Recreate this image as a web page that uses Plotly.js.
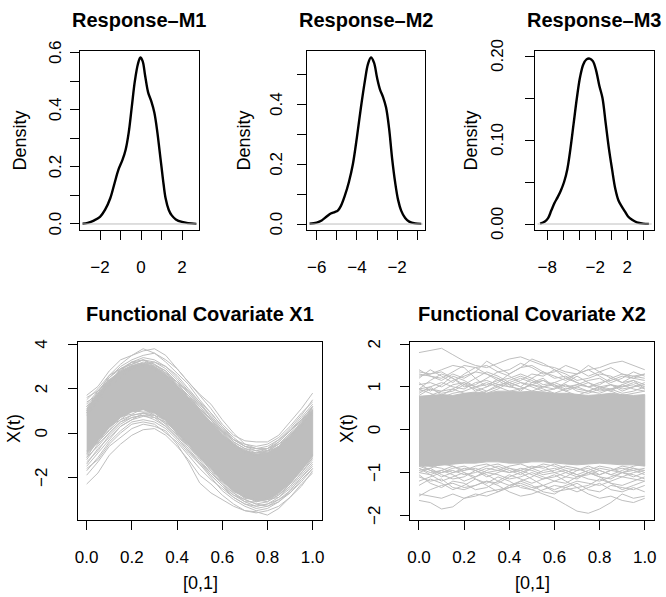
<!DOCTYPE html>
<html><head><meta charset="utf-8">
<script src="https://cdn.plot.ly/plotly-3.0.1.min.js"></script>
<style>html,body{margin:0;padding:0;background:#fff}#chart{width:666px;height:597px}</style>
</head><body><div id="chart"></div>
<script>
// ---------- Density curves ----------
const m1X = [-2.85,-2.6,-2.3,-2.0,-1.75,-1.5,-1.3,-1.1,-0.9,-0.75,-0.6,-0.45,-0.3,-0.15,-0.03,0.08,0.2,0.35,0.5,0.65,0.8,0.9,1.0,1.1,1.2,1.35,1.5,1.7,2.0,2.3,2.7];
const m1Y = [0.001,0.004,0.012,0.025,0.05,0.09,0.14,0.19,0.225,0.26,0.32,0.41,0.50,0.56,0.583,0.57,0.52,0.46,0.43,0.39,0.32,0.26,0.20,0.14,0.09,0.05,0.03,0.016,0.007,0.003,0.0005];
const m2X = [-6.35,-6.0,-5.75,-5.5,-5.3,-5.1,-4.95,-4.8,-4.6,-4.4,-4.2,-4.0,-3.8,-3.6,-3.45,-3.3,-3.15,-3.0,-2.85,-2.7,-2.55,-2.4,-2.25,-2.1,-1.95,-1.8,-1.6,-1.4,-1.1,-0.8];
const m2Y = [0.001,0.005,0.012,0.025,0.035,0.04,0.045,0.06,0.095,0.14,0.2,0.29,0.39,0.48,0.535,0.557,0.54,0.49,0.45,0.425,0.39,0.32,0.22,0.14,0.08,0.045,0.02,0.008,0.002,0.0005];
const m3X = [-8.9,-8.3,-7.9,-7.5,-7.1,-6.7,-6.3,-5.9,-5.5,-5.1,-4.7,-4.3,-3.9,-3.5,-3.1,-2.7,-2.3,-1.9,-1.5,-1.1,-0.7,-0.3,0.1,0.5,0.9,1.3,1.7,2.1,2.6,3.2,4.0,4.7];
const m3Y = [0.0005,0.003,0.007,0.016,0.025,0.032,0.04,0.05,0.065,0.09,0.12,0.15,0.175,0.19,0.196,0.197,0.194,0.183,0.165,0.15,0.12,0.09,0.065,0.042,0.028,0.021,0.015,0.009,0.005,0.002,0.0005,0.0001];

// ---------- Functional covariates on [0,1] ----------
const tGrid = [0,0.05,0.1,0.15,0.2,0.25,0.3,0.35,0.4,0.45,0.5,0.55,0.6,0.65,0.7,0.75,0.8,0.85,0.9,0.95,1];

// X1: dense core band and individual curves
const x1BandHi = [1.1,1.75,2.4,2.8,3.05,3.15,3.0,2.65,2.15,1.6,1.05,0.5,-0.05,-0.5,-0.8,-0.95,-0.9,-0.6,-0.15,0.45,1.05];
const x1BandLo = [-0.95,-0.35,0.25,0.7,0.95,1.05,0.9,0.55,0.05,-0.5,-1.05,-1.6,-2.15,-2.6,-2.9,-3.05,-3.0,-2.7,-2.25,-1.65,-1.05];
const x1U1 = [1.7,2.1,2.8,3.3,3.5,3.7,3.8,3.5,2.9,2.3,1.7,1.1,0.4,-0.1,-0.35,-0.4,-0.4,-0.1,0.5,1.1,1.8];
const x1U2 = [1.5,2.0,2.6,3.1,3.5,3.8,3.6,3.2,2.7,2.2,1.5,0.9,0.3,-0.3,-0.6,-0.7,-0.6,-0.3,0.2,0.8,1.5];
const x1U3 = [1.3,1.9,2.5,3.0,3.3,3.5,3.6,3.3,2.9,2.3,1.75,1.3,0.6,0.0,-0.5,-0.7,-0.8,-0.4,0.1,0.7,1.3];
const x1U4 = [1.2,1.8,2.6,2.9,3.2,3.4,3.3,3.0,2.6,2.0,1.4,0.7,0.2,-0.4,-0.7,-0.9,-0.7,-0.5,0.0,0.6,1.2];
const x1U5 = [1.4,1.7,2.3,2.8,3.2,3.3,3.2,2.9,2.4,1.8,1.2,0.6,0.0,-0.5,-0.8,-0.9,-0.8,-0.5,-0.1,0.5,1.1];
const x1U6 = [1.0,1.9,2.4,2.7,3.0,3.2,3.1,2.8,2.3,1.9,1.3,0.8,0.2,-0.3,-0.6,-0.8,-0.7,-0.4,0.1,0.6,1.0];
const x1U7 = [0.9,1.5,2.2,2.9,3.1,3.3,3.0,2.7,2.2,1.7,1.2,0.6,0.1,-0.4,-0.7,-0.8,-0.9,-0.6,-0.2,0.4,0.9];
const x1U8 = [1.6,1.9,2.3,2.7,3.0,3.0,2.9,2.6,2.3,1.8,1.3,0.7,0.1,-0.3,-0.5,-0.6,-0.5,-0.2,0.3,0.9,1.4];
const x1U9 = [1.2,1.6,2.1,2.5,2.9,3.1,3.2,3.0,2.5,1.9,1.4,0.9,0.3,-0.2,-0.6,-0.7,-0.7,-0.3,0.1,0.6,1.2];
const x1U10 = [0.8,1.4,2.0,2.6,2.9,3.0,2.8,2.6,2.1,1.7,1.1,0.6,0.1,-0.5,-0.9,-1.0,-0.9,-0.6,-0.1,0.3,0.8];
const x1E1 = [1.2,1.6,2.5,2.9,3.1,3.3,3.1,2.7,2.3,1.6,1.1,0.6,-0.1,-0.45,-0.85,-0.9,-0.85,-0.5,-0.2,0.55,1.1];
const x1E2 = [0.9,1.8,2.3,2.85,3.2,3.1,3.05,2.8,2.1,1.7,1.0,0.45,0.05,-0.55,-0.75,-1.0,-0.8,-0.65,-0.05,0.4,1.2];
const x1E3 = [-1.1,-0.3,0.15,0.75,0.85,1.1,0.8,0.6,-0.05,-0.45,-1.15,-1.55,-2.2,-2.55,-2.95,-3.0,-3.1,-2.65,-2.3,-1.6,-1.15];
const x1E4 = [-0.8,-0.45,0.3,0.6,1.0,0.95,0.95,0.45,0.1,-0.6,-1.0,-1.7,-2.1,-2.65,-2.85,-3.1,-2.95,-2.75,-2.2,-1.7,-0.95];
const x1L1 = [-2.3,-1.8,-1.0,-0.5,-0.1,0.15,0.2,-0.1,-0.6,-1.2,-1.9,-2.3,-2.8,-3.2,-3.5,-3.6,-3.5,-3.3,-2.9,-2.3,-1.8];
const x1L2 = [-1.9,-1.3,-0.6,-0.2,0.2,0.4,0.3,0.1,-0.5,-1.3,-2.25,-2.7,-3.0,-3.3,-3.5,-3.55,-3.7,-3.4,-2.9,-2.4,-1.7];
const x1L3 = [-1.7,-1.1,-0.4,0.1,0.5,0.6,0.5,0.2,-0.3,-0.9,-1.4,-2.0,-2.6,-3.0,-3.3,-3.5,-3.4,-3.1,-2.7,-2.1,-1.6];
const x1L4 = [-1.5,-0.9,-0.3,0.3,0.6,0.75,0.7,0.3,-0.2,-0.8,-1.3,-1.9,-2.4,-2.9,-3.2,-3.4,-3.3,-3.0,-2.6,-2.0,-1.4];
const x1L5 = [-1.3,-0.8,-0.1,0.4,0.7,0.8,0.8,0.4,-0.1,-0.6,-1.2,-1.8,-2.3,-2.8,-3.1,-3.3,-3.2,-2.9,-2.5,-1.9,-1.3];
const x1L6 = [-1.2,-0.5,0.0,0.5,0.8,0.9,0.7,0.5,0.0,-0.6,-1.1,-1.7,-2.3,-2.7,-3.0,-3.2,-3.1,-2.8,-2.4,-1.8,-1.2];
const x1L7 = [-1.4,-0.7,-0.2,0.3,0.6,0.9,0.8,0.4,-0.1,-0.7,-1.3,-1.8,-2.2,-2.7,-3.1,-3.1,-3.0,-2.9,-2.4,-1.8,-1.1];
const x1L8 = [-1.1,-0.6,0.0,0.5,0.7,0.8,0.6,0.3,-0.2,-0.8,-1.4,-1.9,-2.4,-2.8,-3.0,-3.2,-3.3,-3.1,-2.6,-2.0,-1.5];
const x1L9 = [-1.6,-1.2,-0.5,0.0,0.4,0.5,0.4,0.0,-0.4,-1.0,-1.6,-2.1,-2.5,-2.9,-3.2,-3.3,-3.2,-3.0,-2.7,-2.2,-1.6];
const x1L10 = [-1.0,-0.4,0.1,0.6,0.8,0.9,0.9,0.6,0.1,-0.5,-1.1,-1.6,-2.1,-2.6,-2.9,-3.0,-3.0,-2.8,-2.3,-1.7,-1.0];

// X2: dense core band and individual curves
const x2BandHi = [0.78,0.8,0.82,0.8,0.85,0.88,0.85,0.9,0.9,0.88,0.9,0.88,0.85,0.85,0.82,0.8,0.82,0.85,0.82,0.8,0.82];
const x2BandLo = [-0.85,-0.85,-0.82,-0.8,-0.78,-0.78,-0.75,-0.75,-0.78,-0.78,-0.75,-0.75,-0.78,-0.8,-0.82,-0.8,-0.78,-0.8,-0.82,-0.82,-0.85];
const x2A1 = [1.8,1.85,1.9,1.75,1.6,1.5,1.45,1.55,1.65,1.7,1.6,1.5,1.45,1.35,1.3,1.4,1.45,1.55,1.6,1.5,1.4];
const x2A2 = [1.35,1.3,1.4,1.5,1.45,1.2,1.0,1.1,1.3,1.45,1.5,1.35,1.2,1.25,1.1,1.0,1.05,1.2,1.3,1.25,1.2];
const x2A3 = [1.3,1.25,1.2,1.35,1.5,1.45,1.3,1.2,1.05,1.15,1.3,1.25,1.4,1.3,1.15,1.2,1.3,1.25,1.1,1.15,1.05];
const x2A4 = [1.25,1.3,1.35,1.2,1.0,1.05,1.2,1.35,1.25,1.1,1.05,1.15,1.05,0.95,1.05,1.15,1.2,1.05,1.0,1.1,1.0];
const x2A5 = [1.05,1.1,1.0,1.15,1.25,1.35,1.3,1.15,1.2,1.3,1.2,1.05,1.1,1.2,1.1,1.0,1.1,1.15,1.25,1.2,1.15];
const x2A6 = [0.95,1.0,1.1,1.0,0.95,1.1,1.15,1.05,1.1,1.2,1.1,1.15,1.0,1.05,0.95,0.9,1.0,1.05,0.95,1.0,1.05];
const x2A7 = [0.9,0.95,0.9,1.05,1.1,1.0,1.05,1.15,1.0,0.95,1.05,1.0,1.1,1.0,1.05,1.0,0.9,0.95,1.05,0.95,0.9];
const x2A8 = [0.85,1.0,0.8,0.95,1.1,0.9,1.0,1.2,1.05,0.9,1.1,1.2,1.0,0.9,1.0,1.1,0.95,1.05,0.9,1.0,1.1];
const x2A9 = [1.1,0.9,1.05,1.25,1.15,1.0,0.9,1.0,1.15,1.25,1.15,1.0,0.95,1.1,1.25,1.1,1.0,0.9,1.05,1.15,0.95];
const x2A10 = [1.2,1.4,1.25,1.1,1.3,1.45,1.5,1.35,1.4,1.55,1.45,1.3,1.35,1.5,1.4,1.25,1.35,1.45,1.3,1.2,1.3];
const x2A11 = [0.95,1.15,1.3,1.2,1.05,1.2,1.35,1.25,1.1,1.0,1.2,1.35,1.25,1.15,1.3,1.4,1.25,1.1,1.2,1.35,1.25];
const x2A12 = [1.4,1.25,1.15,1.3,1.2,1.35,1.6,1.45,1.3,1.45,1.65,1.55,1.4,1.2,1.3,1.5,1.35,1.2,1.1,1.25,1.3];
const x2C1 = [0.8,0.95,0.85,0.9,1.05,0.95,0.85,0.95,1.1,1.0,0.9,1.0,1.05,0.9,0.8,0.9,1.0,0.95,0.85,0.9,1.0];
const x2C2 = [0.95,0.85,0.75,0.85,0.9,1.0,1.1,1.0,0.9,0.95,1.05,0.95,0.85,0.95,1.0,0.9,0.85,0.95,1.0,1.05,0.95];
const x2C3 = [0.7,0.8,0.9,0.95,0.85,0.8,0.9,1.05,1.0,1.1,1.0,0.9,0.95,1.05,0.9,0.85,0.95,0.9,0.8,0.85,0.9];
const x2B1 = [-1.5,-1.55,-1.6,-1.5,-1.6,-1.55,-1.45,-1.4,-1.35,-1.3,-1.4,-1.5,-1.6,-1.75,-1.9,-1.95,-1.85,-1.7,-1.5,-1.6,-1.55];
const x2B2 = [-1.65,-1.7,-1.85,-1.8,-1.6,-1.5,-1.55,-1.45,-1.3,-1.25,-1.35,-1.3,-1.45,-1.4,-1.35,-1.5,-1.6,-1.55,-1.65,-1.7,-1.6];
const x2B3 = [-1.1,-1.2,-1.15,-1.35,-1.4,-1.3,-1.2,-1.25,-1.1,-1.0,-1.15,-1.3,-1.4,-1.3,-1.2,-1.25,-1.3,-1.2,-1.1,-1.15,-1.2];
const x2B4 = [-1.0,-1.05,-1.2,-1.1,-1.0,-1.15,-1.25,-1.1,-1.2,-1.35,-1.4,-1.3,-1.2,-1.1,-1.15,-1.0,-1.1,-1.25,-1.3,-1.2,-1.1];
const x2B5 = [-0.9,-1.0,-0.95,-1.05,-1.2,-1.1,-1.0,-1.05,-1.15,-1.1,-1.0,-1.1,-1.2,-1.25,-1.1,-1.05,-0.95,-1.05,-1.1,-1.0,-0.95];
const x2B6 = [-1.2,-1.1,-1.0,-0.95,-1.05,-1.0,-0.9,-0.95,-1.0,-0.9,-0.95,-1.05,-1.0,-0.95,-1.05,-1.15,-1.2,-1.1,-1.0,-1.05,-1.15];
const x2B7 = [-0.95,-0.9,-1.05,-1.15,-1.1,-0.95,-1.05,-1.2,-1.3,-1.2,-1.1,-0.95,-0.9,-1.0,-1.1,-1.0,-0.9,-0.95,-1.0,-1.1,-1.0];
const x2B8 = [-0.9,-1.05,-0.95,-0.85,-1.0,-1.1,-0.95,-0.85,-0.95,-1.05,-0.9,-0.85,-1.0,-1.1,-0.95,-0.9,-1.05,-0.95,-0.9,-0.95,-1.05];
const x2B9 = [-1.3,-1.15,-1.25,-1.4,-1.3,-1.15,-1.3,-1.45,-1.35,-1.2,-1.3,-1.45,-1.5,-1.35,-1.25,-1.4,-1.45,-1.3,-1.35,-1.4,-1.3];
const x2B10 = [-1.05,-1.25,-1.35,-1.2,-1.25,-1.4,-1.35,-1.2,-1.05,-1.15,-1.25,-1.15,-1.05,-1.2,-1.35,-1.3,-1.15,-1.25,-1.4,-1.3,-1.2];
const x2B11 = [-0.85,-0.95,-1.1,-1.0,-0.9,-0.95,-1.1,-1.0,-0.9,-0.95,-1.05,-1.15,-1.1,-1.0,-0.9,-1.0,-1.1,-1.15,-1.0,-0.9,-0.95];
const x2B12 = [-1.55,-1.4,-1.3,-1.25,-1.35,-1.3,-1.2,-1.3,-1.45,-1.55,-1.5,-1.4,-1.3,-1.35,-1.45,-1.35,-1.25,-1.4,-1.45,-1.35,-1.45];
const x2C4 = [-0.8,-0.95,-1.0,-0.9,-0.85,-0.95,-0.85,-0.8,-0.9,-1.0,-0.9,-0.8,-0.85,-0.95,-1.05,-0.95,-0.85,-0.9,-1.0,-0.95,-0.9];
const x2C5 = [-1.0,-0.9,-0.8,-0.85,-0.95,-0.9,-1.0,-0.95,-0.85,-0.8,-0.9,-1.0,-0.95,-0.85,-0.9,-1.0,-1.05,-0.95,-0.85,-0.9,-1.0];
const x2C6 = [-0.75,-0.85,-0.9,-1.0,-0.95,-0.85,-0.8,-0.9,-1.0,-0.95,-0.85,-0.9,-0.8,-0.9,-0.95,-0.85,-0.95,-1.05,-0.95,-0.85,-0.8];

// ---------- Tick values and labels ----------
const m1XTicks = [-2,-1,0,1,2];            const m1XLabels = ['\u22122','','0','','2'];
const m1YTicks = [0,0.1,0.2,0.3,0.4,0.5,0.6]; const m1YLabels = ['0.0','','0.2','','0.4','','0.6'];
const m2XTicks = [-6,-5,-4,-3,-2,-1];      const m2XLabels = ['\u22126','','\u22124','','\u22122',''];
const m2YTicks = [0,0.1,0.2,0.3,0.4,0.5];  const m2YLabels = ['0.0','','0.2','','0.4',''];
const m3XTicks = [-8,-6,-4,-2,0,2,4];      const m3XLabels = ['\u22128','','','\u22122','','2',''];
const m3YTicks = [0,0.05,0.1,0.15,0.2];    const m3YLabels = ['0.00','','0.10','','0.20'];
const fXTicks = [0,0.2,0.4,0.6,0.8,1];     const fXLabels = ['0.0','0.2','0.4','0.6','0.8','1.0'];
const x1YTicks = [-2,0,2,4];               const x1YLabels = ['\u22122','0','2','4'];
const x2YTicks = [-2,-1,0,1,2];            const x2YLabels = ['\u22122','\u22121','0','1','2'];

// ---------- Build figure ----------
const W = 666, H = 597;
const FONT = 'Liberation Sans, Arial, Helvetica, sans-serif';
const GRAY = '#bebebe';
const dX = (l, r) => [l / W, r / W];
const dY = (t, b) => [1 - b / H, 1 - t / H];

const traces = [];
function density(x, y, n) {
  traces.push({x: x, y: y, xaxis: 'x' + n, yaxis: 'y' + n, type: 'scatter', mode: 'lines',
    line: {color: '#000', width: 2.4, shape: 'spline', smoothing: 1}, hoverinfo: 'skip'});
}
function band(hi, lo, n) {
  traces.push({x: tGrid.concat(tGrid.slice().reverse()), y: hi.concat(lo.slice().reverse()),
    xaxis: 'x' + n, yaxis: 'y' + n, type: 'scatter', mode: 'lines', fill: 'toself',
    fillcolor: GRAY, line: {color: GRAY, width: 1}, hoverinfo: 'skip'});
}
function curves(list, n) {
  list.forEach(c => traces.push({x: tGrid, y: c, xaxis: 'x' + n, yaxis: 'y' + n, type: 'scatter',
    mode: 'lines', line: {color: GRAY, width: 1}, hoverinfo: 'skip'}));
}
density(m1X, m1Y, '');
density(m2X, m2Y, 2);
density(m3X, m3Y, 3);
band(x1BandHi, x1BandLo, 4);
curves([x1U1,x1U2,x1U3,x1U4,x1U5,x1U6,x1U7,x1U8,x1U9,x1U10,x1E1,x1E2,x1E3,x1E4,
        x1L1,x1L2,x1L3,x1L4,x1L5,x1L6,x1L7,x1L8,x1L9,x1L10], 4);
band(x2BandHi, x2BandLo, 5);
curves([x2A1,x2A2,x2A3,x2A4,x2A5,x2A6,x2A7,x2A8,x2A9,x2A10,x2A11,x2A12,x2C1,x2C2,x2C3,
        x2B1,x2B2,x2B3,x2B4,x2B5,x2B6,x2B7,x2B8,x2B9,x2B10,x2B11,x2B12,x2C4,x2C5,x2C6], 5);

function ax(domain, range, tv, tt, extra) {
  return Object.assign({domain: domain, range: range, tickmode: 'array', tickvals: tv, ticktext: tt,
    showline: true, mirror: true, linecolor: '#000', linewidth: 1, ticks: 'outside', ticklen: 9,
    tickwidth: 1, tickcolor: '#000', showgrid: false, zeroline: false, fixedrange: true,
    tickfont: {family: FONT, size: 17, color: '#000'}}, extra || {});
}
const xt = (anchor) => ({anchor: anchor, ticklabelstandoff: 13});
// y tick labels are written vertically (as in the reference) by annotations placed on the axis scale
const yt = (anchor) => ({anchor: anchor, showticklabels: false});

const annotations = [
  ['<b>Response\u2013M1</b>', 139.5, 20, 20, 0], ['<b>Response\u2013M2</b>', 366, 20, 20, 0],
  ['<b>Response\u2013M3</b>', 594.6, 20, 20, 0],
  ['<b>Functional Covariate X1</b>', 200, 314, 20, 0], ['<b>Functional Covariate X2</b>', 532, 314, 20, 0],
  ['Density', 19.5, 141, 18, -90], ['Density', 243.5, 141, 18, -90], ['Density', 470.5, 141, 18, -90],
  ['X(t)', 14, 429, 18, -90], ['X(t)', 347, 429, 18, -90],
  ['[0,1]', 200, 583, 18, 0], ['[0,1]', 532, 583, 18, 0]
].map(a => ({text: a[0], xref: 'paper', yref: 'paper', x: a[1] / W, y: 1 - a[2] / H,
  xanchor: 'center', yanchor: 'middle', textangle: a[4], showarrow: false,
  font: {family: FONT, size: a[3], color: '#000'}}));

function yLabels(vals, texts, yref, px) {
  vals.forEach((v, i) => {
    if (!texts[i]) return;
    annotations.push({text: texts[i], xref: 'paper', yref: yref, x: px / W, y: v,
      xanchor: 'center', yanchor: 'middle', textangle: -90, showarrow: false,
      font: {family: FONT, size: 17, color: '#000'}});
  });
}
yLabels(m1YTicks, m1YLabels, 'y', 55.5);
yLabels(m2YTicks, m2YLabels, 'y2', 276.5);
yLabels(m3YTicks, m3YLabels, 'y3', 497);
yLabels(x1YTicks, x1YLabels, 'y4', 41.5);
yLabels(x2YTicks, x2YLabels, 'y5', 374.5);

const layout = {
  width: W, height: H, margin: {l: 0, r: 0, t: 0, b: 0}, showlegend: false,
  paper_bgcolor: '#fff', plot_bgcolor: '#fff',
  xaxis:  ax(dX(80, 198.5), [-2.976, 2.805], m1XTicks, m1XLabels, xt('y')),
  yaxis:  ax(dY(51, 230), [-0.0211, 0.6056], m1YTicks, m1YLabels, yt('x')),
  xaxis2: ax(dX(306.8, 425.1), [-6.49, -0.61], m2XTicks, m2XLabels, xt('y2')),
  yaxis2: ax(dY(51, 230), [-0.02, 0.579], m2YTicks, m2YLabels, yt('x2')),
  xaxis3: ax(dX(535.2, 654), [-9.51, 5.34], m3XTicks, m3XLabels, xt('y3')),
  yaxis3: ax(dY(51, 230), [-0.00714, 0.206], m3YTicks, m3YLabels, yt('x3')),
  xaxis4: ax(dX(78.3, 321.7), [-0.037, 1.04], fXTicks, fXLabels, xt('y4')),
  yaxis4: ax(dY(341.7, 520), [-3.92, 4.117], x1YTicks, x1YLabels, yt('x4')),
  xaxis5: ax(dX(410.3, 654), [-0.0385, 1.041], fXTicks, fXLabels, xt('y5')),
  yaxis5: ax(dY(341.7, 520), [-2.107, 2.054], x2YTicks, x2YLabels, yt('x5')),
  shapes: [
    {type: 'line', xref: 'x domain', yref: 'y', x0: 0.02, x1: 0.98, y0: 0, y1: 0, line: {color: GRAY, width: 1}},
    {type: 'line', xref: 'x2 domain', yref: 'y2', x0: 0.02, x1: 0.98, y0: 0, y1: 0, line: {color: GRAY, width: 1}},
    {type: 'line', xref: 'x3 domain', yref: 'y3', x0: 0.02, x1: 0.98, y0: 0, y1: 0, line: {color: GRAY, width: 1}}
  ],
  annotations: annotations
};
Plotly.newPlot('chart', traces, layout, {staticPlot: true, displayModeBar: false});
</script></body></html>
